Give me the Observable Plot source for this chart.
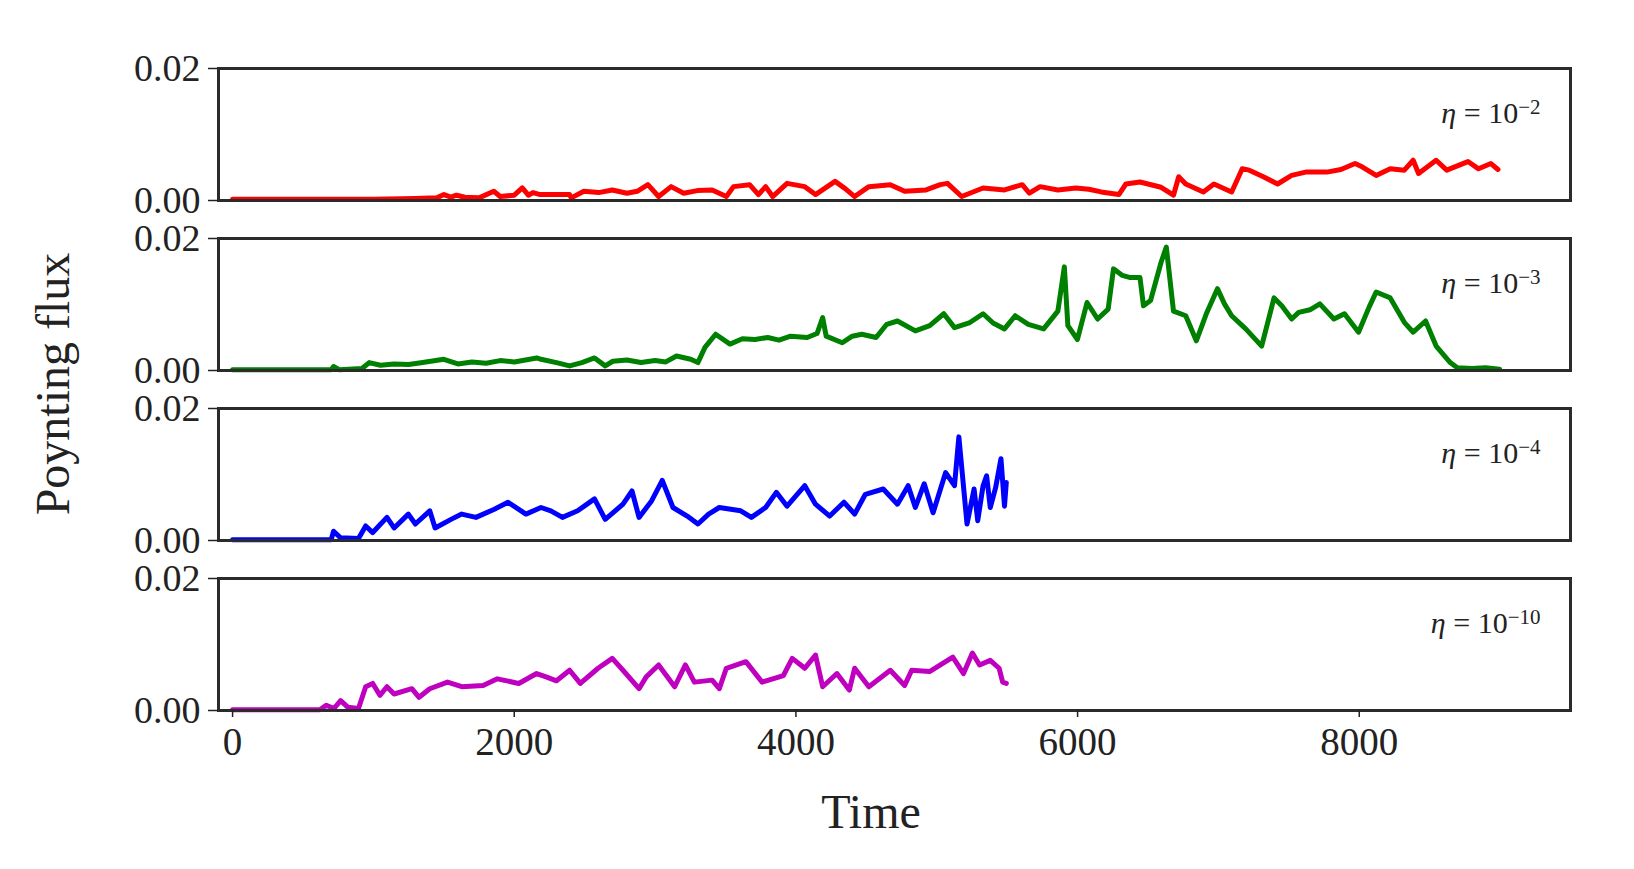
<!DOCTYPE html>
<html>
<head>
<meta charset="utf-8">
<script src="https://cdn.jsdelivr.net/npm/d3@7"></script>
<script src="https://cdn.jsdelivr.net/npm/@observablehq/plot@0.6"></script>
<style>
  body { margin: 0; background: #fff; }
  #chart { width: 1634px; height: 869px; }
</style>
</head>
<body>
<div id="chart"></div>
<script>
// ---- data ----
const seriesNames = ["η = 10^−2", "η = 10^−3", "η = 10^−4", "η = 10^−10"];
const seriesColors = ["#ff0000", "#008000", "#0000ff", "#bf00bf"];
const xTicks = [0, 2000, 4000, 6000, 8000];
const yTicks = [0, 0.02];

// [time, Poynting flux]
const eta2 = [[0,0.0002],[500,0.0002],[1000,0.0002],[1300,0.0003],[1450,0.0004],[1501,0.0009],[1550,0.0005],[1590,0.0008],[1650,0.0005],[1750,0.0004],[1855,0.0014],[1900,0.0006],[2000,0.0008],[2057,0.0019],[2100,0.0008],[2133,0.0012],[2184,0.0009],[2250,0.0009],[2392,0.0009],[2405,0.0004],[2494,0.0014],[2600,0.0012],[2696,0.0016],[2800,0.0011],[2873,0.0014],[2949,0.0024],[3025,0.0006],[3114,0.0021],[3203,0.0011],[3300,0.0015],[3405,0.0016],[3506,0.0006],[3557,0.0021],[3671,0.0024],[3734,0.0009],[3785,0.0021],[3835,0.0006],[3937,0.0026],[4063,0.0021],[4139,0.0009],[4278,0.0029],[4350,0.0018],[4417,0.0006],[4518,0.0021],[4670,0.0024],[4772,0.0014],[4924,0.0016],[5025,0.0024],[5076,0.0026],[5177,0.0006],[5329,0.0019],[5481,0.0016],[5607,0.0024],[5658,0.0011],[5734,0.0021],[5860,0.0016],[5987,0.0019],[6080,0.0017],[6167,0.0013],[6293,0.0009],[6343,0.0025],[6443,0.0028],[6593,0.002],[6681,0.0008],[6718,0.0036],[6768,0.0025],[6893,0.0013],[6968,0.0025],[7094,0.0013],[7169,0.0048],[7219,0.0046],[7319,0.0036],[7420,0.0025],[7520,0.0038],[7620,0.0043],[7770,0.0043],[7870,0.0047],[7970,0.0056],[8020,0.0051],[8120,0.0038],[8220,0.0048],[8320,0.0046],[8383,0.0061],[8421,0.0041],[8546,0.0061],[8621,0.0046],[8772,0.0059],[8847,0.0048],[8935,0.0056],[8985,0.0047]];

const eta3 = [[0,0.0001],[700,0.0001],[717,0.0006],[760,0.0001],[919,0.0003],[970,0.0012],[1050,0.0008],[1147,0.001],[1250,0.0009],[1350,0.0012],[1500,0.0017],[1600,0.001],[1700,0.0013],[1800,0.0011],[1900,0.0015],[2000,0.0013],[2160,0.0019],[2190,0.0017],[2300,0.0012],[2393,0.0007],[2480,0.0012],[2570,0.0019],[2646,0.0007],[2700,0.0014],[2800,0.0016],[2900,0.0012],[3000,0.0015],[3076,0.0013],[3152,0.0022],[3253,0.0017],[3304,0.0012],[3354,0.0035],[3430,0.0055],[3532,0.004],[3620,0.0048],[3709,0.0047],[3800,0.005],[3880,0.0046],[3962,0.0052],[4080,0.005],[4150,0.0056],[4190,0.008],[4215,0.0052],[4329,0.0042],[4400,0.0052],[4468,0.0055],[4569,0.005],[4645,0.007],[4721,0.0075],[4848,0.006],[4950,0.0068],[5050,0.0086],[5126,0.0065],[5230,0.0072],[5329,0.0086],[5400,0.0072],[5481,0.0063],[5557,0.0083],[5650,0.007],[5759,0.0063],[5860,0.009],[5906,0.0157],[5931,0.0068],[5999,0.0047],[6067,0.0103],[6142,0.0078],[6217,0.0093],[6255,0.0154],[6318,0.0144],[6368,0.0141],[6443,0.0141],[6468,0.0098],[6518,0.0106],[6593,0.0164],[6630,0.0187],[6681,0.009],[6768,0.0083],[6843,0.0045],[6918,0.0088],[6993,0.0124],[7043,0.0101],[7094,0.0083],[7194,0.0063],[7307,0.0037],[7395,0.011],[7450,0.0098],[7520,0.0078],[7570,0.0088],[7650,0.0092],[7720,0.0101],[7820,0.0078],[7895,0.0086],[7995,0.0058],[8070,0.0096],[8120,0.0119],[8220,0.011],[8320,0.0073],[8383,0.0058],[8471,0.0075],[8546,0.0037],[8646,0.0012],[8696,0.0004],[8800,0.0003],[8897,0.0004],[8997,0.0002]];

const eta4 = [[0,0.0001],[700,0.0001],[717,0.0014],[767,0.0004],[894,0.0003],[945,0.0022],[995,0.0012],[1096,0.0035],[1147,0.0019],[1248,0.004],[1298,0.0025],[1400,0.0045],[1438,0.0019],[1551,0.0032],[1627,0.004],[1728,0.0035],[1855,0.0047],[1956,0.0058],[2083,0.004],[2190,0.005],[2260,0.0045],[2342,0.0035],[2450,0.0045],[2570,0.0063],[2646,0.0032],[2772,0.0055],[2836,0.0075],[2886,0.0035],[2975,0.006],[3051,0.0091],[3127,0.005],[3228,0.0037],[3304,0.0025],[3380,0.004],[3456,0.005],[3608,0.0045],[3684,0.0035],[3785,0.005],[3861,0.0073],[3937,0.0052],[4063,0.0083],[4139,0.0055],[4240,0.0037],[4341,0.0058],[4417,0.004],[4493,0.007],[4620,0.0078],[4721,0.0055],[4797,0.0083],[4848,0.005],[4911,0.0086],[4974,0.0042],[5063,0.0103],[5126,0.0083],[5157,0.0157],[5215,0.0025],[5265,0.0078],[5291,0.003],[5329,0.0083],[5354,0.0098],[5380,0.005],[5418,0.008],[5456,0.0124],[5481,0.0052],[5494,0.0088]];

const eta10 = [[0,0.0001],[620,0.0001],[665,0.0008],[720,0.0003],[767,0.0015],[818,0.0005],[894,0.0003],[945,0.0036],[995,0.0041],[1046,0.0023],[1096,0.0036],[1147,0.0025],[1273,0.0033],[1324,0.002],[1400,0.0033],[1526,0.0043],[1627,0.0036],[1779,0.0038],[1880,0.0048],[2032,0.0041],[2159,0.0056],[2226,0.0051],[2300,0.0045],[2393,0.0061],[2469,0.0041],[2595,0.0064],[2696,0.0079],[2772,0.0061],[2886,0.0033],[2937,0.0051],[3025,0.0069],[3139,0.0036],[3215,0.0069],[3279,0.0043],[3405,0.0046],[3456,0.0033],[3506,0.0064],[3645,0.0074],[3760,0.0043],[3911,0.0053],[3974,0.0079],[4063,0.0064],[4139,0.0084],[4190,0.0036],[4291,0.0056],[4379,0.0031],[4417,0.0064],[4518,0.0036],[4670,0.0061],[4772,0.0038],[4822,0.0061],[4949,0.0059],[5114,0.0081],[5190,0.0056],[5253,0.0087],[5304,0.0069],[5380,0.0076],[5443,0.0064],[5468,0.0043],[5494,0.0041]];

const seriesData = [eta2, eta3, eta4, eta10];

// ---- table for the library ----
const rows = seriesData.flatMap((arr, i) => arr.map(([t, v]) => ({s: seriesNames[i], t, v})));
const labelRows = seriesNames.map(s => ({s}));

const serif = '"Liberation Serif", "Times New Roman", serif';

const chart = Plot.plot({
  width: 1634,
  height: 869,
  marginLeft: 218,
  marginRight: 64,
  marginTop: 67,
  marginBottom: 159,
  style: {fontFamily: serif, color: "#222", background: "#fff", overflow: "visible"},
  x: {domain: [-100, 9500]},
  y: {domain: [0, 0.02]},
  fy: {domain: seriesNames, paddingInner: 0.2244, paddingOuter: 0, axis: null},
  color: {domain: seriesNames, range: seriesColors},
  marks: [
    Plot.line(rows, {x: "t", y: "v", fy: "s", stroke: "s", strokeWidth: 5, strokeLinejoin: "round", strokeLinecap: "round"}),
    Plot.frame({stroke: "#2b2b2b", strokeWidth: 3}),
    Plot.axisY({ticks: yTicks, tickFormat: d3.format(".2f"), tickSize: 10, tickPadding: 8, fontSize: 38, strokeWidth: 1.5, label: null}),
    Plot.axisX({ticks: xTicks, tickFormat: d3.format("d"), tickSize: 7, tickPadding: 10, fontSize: 39, strokeWidth: 1.5, label: null}),
    Plot.text(labelRows, {fy: "s", text: "s", frameAnchor: "top-right", dx: -30, dy: 45, lineAnchor: "middle", textAnchor: "end", fontSize: 30, fill: "#222"})
  ]
});

document.getElementById("chart").appendChild(chart);

// math-style labels: italic eta and raised exponent
d3.select(chart).selectAll('g[aria-label="text"] text').each(function () {
  const s = this.textContent;
  const [base, exp] = s.split("^");
  this.textContent = "";
  const t = d3.select(this);
  t.append("tspan").attr("font-style", "italic").text(base.slice(0, 1));
  t.append("tspan").text(base.slice(1));
  t.append("tspan").attr("dy", "-0.45em").attr("font-size", "0.7em").text(exp);
});

// axis titles
const svg = d3.select(chart);
svg.append("text")
  .attr("x", 871).attr("y", 828)
  .attr("text-anchor", "middle")
  .attr("font-size", 48).attr("fill", "#222")
  .text("Time");
svg.append("text")
  .attr("transform", "translate(69,384) rotate(-90)")
  .attr("text-anchor", "middle")
  .attr("font-size", 48).attr("fill", "#222")
  .text("Poynting flux");
</script>
</body>
</html>
